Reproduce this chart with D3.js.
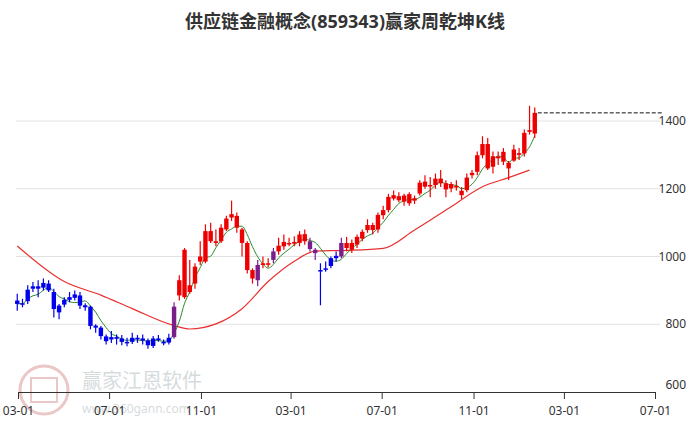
<!DOCTYPE html>
<html><head><meta charset="utf-8">
<script src="https://cdn.jsdelivr.net/npm/d3@7"></script>
<style>body{margin:0;background:#fff}svg{display:block;font-family:"Noto Sans","Noto Sans CJK SC",sans-serif}</style>
</head><body><svg id="c" width="689" height="427"></svg>
<script>
const title = "供应链金融概念(859343)赢家周乾坤K线";
const startDate = "2022-02-28";
const xTickDates = ["2022-03-01","2022-07-01","2022-11-01","2023-03-01","2023-07-01","2023-11-01","2024-03-01","2024-07-01"];
// [open, close, high, low] weekly
const candles = [
[870,860,890,840],[858,862,875,850],[868,902,915,860],[905,912,925,895],[912,905,930,880],
[908,922,935,900],[920,900,930,895],[895,845,905,820],[855,835,860,815],[858,872,880,850],
[872,880,895,865],[878,888,900,870],[885,855,895,845],[856,850,862,840],[852,795,855,785],
[796,790,800,775],[790,765,795,755],[764,750,770,740],[755,762,780,745],[762,757,770,740],
[758,748,768,738],[748,745,760,735],[748,760,775,742],[760,757,768,745],[758,752,770,740],
[752,738,758,728],[736,758,765,730],[758,755,768,748],[748,746,755,738],[746,760,772,740],
[762,852,865,757],[885,930,945,870],[880,1020,1025,875],[895,915,990,890],[920,970,980,905],
[985,1000,1045,975],[985,1075,1095,980],[1075,1045,1100,1040],[1045,1040,1080,1030],[1045,1085,1095,1040],
[1080,1112,1120,1075],[1115,1125,1165,1105],[1120,1085,1130,1070],[1080,1040,1085,1000],[1040,960,1045,950],
[960,935,965,920],[930,975,990,912],[975,980,1000,965],[980,978,995,968],[990,1015,1025,980],
[1015,1032,1055,1005],[1030,1043,1065,1020],[1040,1040,1055,1030],[1038,1043,1060,1030],[1040,1065,1075,1030],
[1045,1066,1080,1035],[1045,1022,1055,1015],[1020,1010,1025,990],[960,958,980,856],[962,965,985,955],
[972,995,1000,965],[995,1002,1015,985],[1000,1040,1055,995],[1025,1040,1058,1015],[1020,1040,1050,1010],
[1035,1058,1065,1025],[1053,1073,1080,1045],[1078,1093,1110,1070],[1093,1078,1100,1065],[1080,1123,1130,1070],
[1122,1137,1150,1110],[1137,1176,1185,1130],[1171,1181,1195,1165],[1178,1166,1190,1160],[1180,1162,1185,1150],
[1184,1157,1190,1150],[1165,1172,1180,1155],[1186,1218,1225,1180],[1206,1221,1240,1200],[1211,1211,1235,1175],
[1211,1230,1245,1200],[1230,1216,1255,1205],[1216,1198,1225,1175],[1214,1201,1220,1190],[1208,1205,1225,1195],
[1194,1181,1205,1170],[1196,1233,1245,1190],[1240,1247,1255,1230],[1250,1299,1310,1240],[1299,1332,1355,1290],
[1332,1260,1350,1255],[1265,1296,1310,1245],[1290,1295,1310,1270],[1309,1280,1320,1270],[1277,1260,1282,1226],
[1283,1316,1330,1280],[1300,1305,1320,1285],[1304,1365,1375,1295],[1368,1373,1445,1360],[1363,1424,1440,1350]
];
// trend state per week: b=blue, p=purple, r=red
const states = "bbbbbbbbbbbbbbbbbbbbbbbbbbbbbbprrrrrrrrrrrrrrrprrprrrrrrppbbbbprrrrrrrrrrrrrrrrrrrrrrrrrrrrrrrrrrrrr";
// long moving average: [week index, value]
const longMA = [[0,1031],[9,926],[16,886],[22,846],[30,796],[33,786],[38,801],[43,846],[48,926],[53,986],[57,1016],[63,1018],
[70,1024],[76,1078],[83,1147],[89,1206],[94,1233],[98,1255]];
const yTicks = [600,800,1000,1200,1400];

const svg = d3.select("#c");
const t0 = new Date(startDate);
const dates = candles.map((d,i)=>d3.timeWeek.offset(t0,i));
const x = d3.scaleTime().domain([new Date("2022-03-01"), new Date("2024-07-01")]).range([18,655]);
const y = d3.scaleLinear().domain([600,1400]).range([392,121]);
const col = {b:"#0000ee", p:"#7a1f8a", r:"#ee0000"};

// watermark
const wm = svg.append("g").attr("opacity",0.35);
wm.append("circle").attr("cx",44).attr("cy",390).attr("r",24).attr("fill","none").attr("stroke","#c86060").attr("stroke-width",3);
wm.append("rect").attr("x",31).attr("y",378).attr("width",26).attr("height",24).attr("fill","none").attr("stroke","#c86060").attr("stroke-width",2);
wm.append("text").attr("x",82).attr("y",388).attr("font-size",20).attr("fill","#8a9aa0").text("赢家江恩软件");
wm.append("text").attr("x",82).attr("y",413).attr("font-size",12).attr("fill","#8a9aa0").text("www.360gann.com");

// grid
svg.append("g").selectAll("line").data(yTicks.slice(1)).join("line")
 .attr("x1",16).attr("x2",660).attr("y1",d=>y(d)).attr("y2",d=>y(d)).attr("stroke","#e2e2e2");
svg.append("g").selectAll("text").data(yTicks).join("text")
 .attr("x",686).attr("y",d=>y(d)+(d===600?-3:4)).attr("text-anchor","end").attr("font-size",12).attr("fill","#333").text(d=>d);

// x axis
const xa = svg.append("g").attr("transform","translate(0,392)")
 .call(d3.axisBottom(x).tickValues(xTickDates.map(s=>new Date(s))).tickFormat(d3.timeFormat("%m-%d")).tickSize(7));
xa.select(".domain").attr("stroke","#333");
xa.selectAll("line").attr("stroke","#333");
xa.selectAll("text").attr("font-size",12).attr("fill","#333").attr("dy","1.1em").attr("font-family","Noto Sans");

// long MA
svg.append("path").datum(longMA).attr("fill","none").attr("stroke","#e83030").attr("stroke-width",1.2)
 .attr("d",d3.line().x(d=>x(dates[d[0]])).y(d=>y(d[1])).curve(d3.curveMonotoneX));
// short MA (5 week)
const closes = candles.map(d=>d[1]);
const sma = closes.map((c,i)=>d3.mean(closes.slice(Math.max(0,i-4),i+1)));
svg.append("path").datum(sma).attr("fill","none").attr("stroke","#2a8a2a").attr("stroke-width",1)
 .attr("d",d3.line().x((d,i)=>x(dates[i])).y(d=>y(d)).curve(d3.curveMonotoneX));

// candles
const g = svg.append("g").selectAll("g").data(candles).join("g");
g.append("line").attr("x1",(d,i)=>x(dates[i])).attr("x2",(d,i)=>x(dates[i]))
 .attr("y1",d=>y(d[2])).attr("y2",d=>y(d[3])).attr("stroke",(d,i)=>col[states[i]]).attr("stroke-width",1.2);
g.append("rect").attr("x",(d,i)=>x(dates[i])-2.2).attr("width",4.4)
 .attr("y",d=>y(Math.max(d[0],d[1]))).attr("height",d=>Math.max(1.5,Math.abs(y(d[0])-y(d[1]))))
 .attr("fill",(d,i)=>col[states[i]]);

// dashed last-price line
const last = candles[candles.length-1];
svg.append("line").attr("x1",x(dates[dates.length-1])+3).attr("x2",662).attr("y1",y(last[1])).attr("y2",y(last[1]))
 .attr("stroke","#111").attr("stroke-dasharray","4,2");

svg.append("text").attr("x",345).attr("y",28).attr("text-anchor","middle").attr("font-size",18).attr("font-weight","bold").attr("fill","#333").text(title);
</script></body></html>
